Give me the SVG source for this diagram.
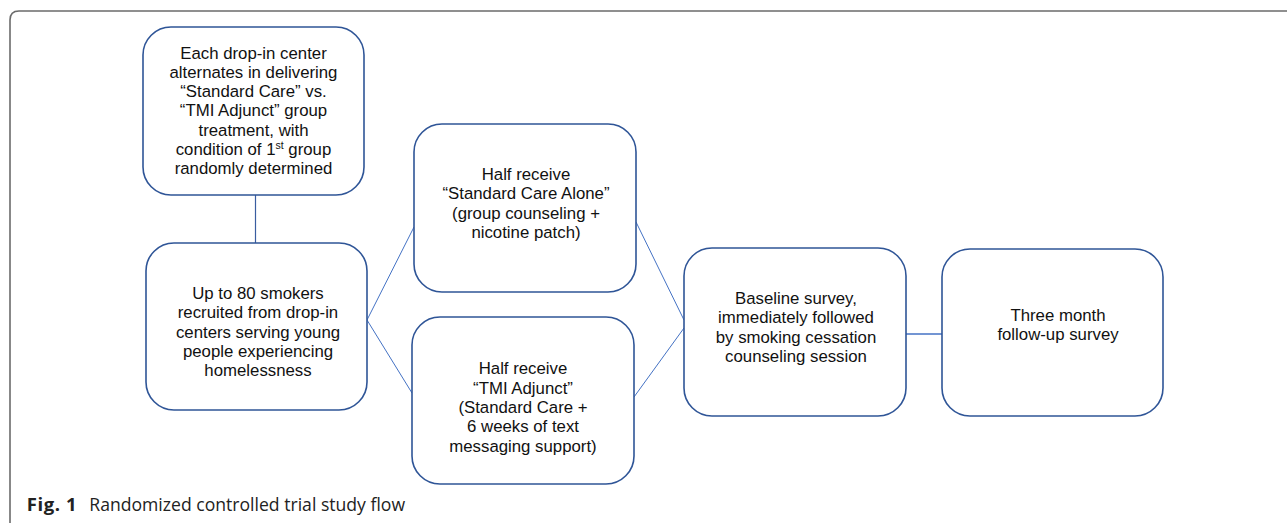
<svg xmlns="http://www.w3.org/2000/svg" width="1287" height="523" viewBox="0 0 1287 523">
<style>
.box{fill:#fff;stroke:#2F5597;stroke-width:1.6}
.t{font-family:"Liberation Sans",Arial,sans-serif;font-size:16.8px;fill:#111;text-anchor:middle}
.conn{fill:none;stroke:#4472C4;stroke-width:1}
.cap{font-family:"Open Sans","Noto Sans",sans-serif;font-size:17.6px;fill:#222}
</style>
<rect x="0" y="0" width="1287" height="523" fill="#fff"/>
<path d="M10,523 V20 Q10,11 19,11 H1287" fill="none" stroke="#6b6b6b" stroke-width="1.6"/>
<g id="connectors">
<line x1="255.5" y1="195" x2="255.5" y2="243" stroke="#3A5DA0" stroke-width="1.2"/>
<line class="conn" x1="367" y1="320" x2="414" y2="227"/>
<line class="conn" x1="367" y1="320" x2="412" y2="393"/>
<line class="conn" x1="636" y1="222" x2="684" y2="320"/>
<line class="conn" x1="634" y1="397" x2="684" y2="328"/>
<line x1="906" y1="334" x2="942" y2="334" stroke="#4472C4" stroke-width="1.6"/>
</g>
<g id="node1">
<rect class="box" x="143" y="27" width="221" height="168" rx="28"/>
<text class="t" x="253.5" y="58.5">Each drop-in center</text>
<text class="t" x="253.5" y="77.8">alternates in delivering</text>
<text class="t" x="253.5" y="97.1">“Standard Care” vs.</text>
<text class="t" x="253.5" y="116.4">“TMI Adjunct” group</text>
<text class="t" x="253.5" y="135.7">treatment, with</text>
<text class="t" x="253.5" y="155">condition of 1<tspan font-size="10.5" dy="-6">st</tspan><tspan dy="6"> group</tspan></text>
<text class="t" x="253.5" y="174.3">randomly determined</text>
</g>
<g id="node2">
<rect class="box" x="146" y="243" width="221" height="167" rx="28"/>
<text class="t" x="258" y="299">Up to 80 smokers</text>
<text class="t" x="258" y="318.3">recruited from drop-in</text>
<text class="t" x="258" y="337.6">centers serving young</text>
<text class="t" x="258" y="356.9">people experiencing</text>
<text class="t" x="258" y="376.2">homelessness</text>
</g>
<g id="node3">
<rect class="box" x="414" y="124" width="222" height="168" rx="28"/>
<text class="t" x="526" y="180">Half receive</text>
<text class="t" x="526" y="199.3">“Standard Care Alone”</text>
<text class="t" x="526" y="218.6">(group counseling +</text>
<text class="t" x="526" y="237.9">nicotine patch)</text>
</g>
<g id="node4">
<rect class="box" x="412" y="317" width="222" height="167" rx="28"/>
<text class="t" x="523" y="374.3">Half receive</text>
<text class="t" x="523" y="393.6">“TMI Adjunct”</text>
<text class="t" x="523" y="412.9">(Standard Care +</text>
<text class="t" x="523" y="432.2">6 weeks of text</text>
<text class="t" x="523" y="451.5">messaging support)</text>
</g>
<g id="node5">
<rect class="box" x="684" y="248" width="222" height="168" rx="28"/>
<text class="t" x="796" y="304">Baseline survey,</text>
<text class="t" x="796" y="323.3">immediately followed</text>
<text class="t" x="796" y="342.6">by smoking cessation</text>
<text class="t" x="796" y="361.9">counseling session</text>
</g>
<g id="node6">
<rect class="box" x="942" y="249" width="221" height="167" rx="28"/>
<text class="t" x="1058" y="321">Three month</text>
<text class="t" x="1058" y="340.3">follow-up survey</text>
</g>
<text class="cap" x="26.7" y="511"><tspan font-weight="bold" font-size="18.5" textLength="50" lengthAdjust="spacing">Fig. 1</tspan><tspan x="89.3">Randomized controlled trial study flow</tspan></text>
</svg>
